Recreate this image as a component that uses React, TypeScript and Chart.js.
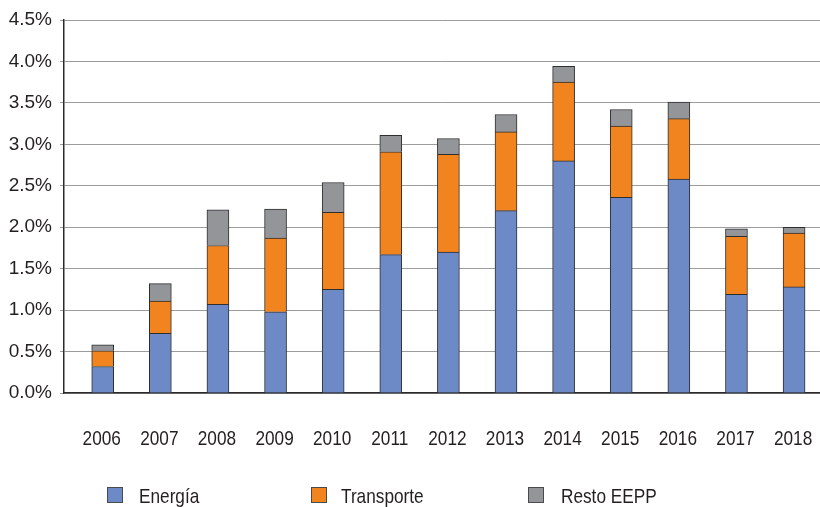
import React, { useEffect, useRef } from "react";
import { Chart, registerables } from "chart.js";

Chart.register(...registerables);

const categories = ["2006", "2007", "2008", "2009", "2010", "2011", "2012", "2013", "2014", "2015", "2016", "2017", "2018"];
const energia = [0.32, 0.72, 1.07, 0.98, 1.25, 1.67, 1.70, 2.20, 2.80, 2.36, 2.58, 1.19, 1.28];
const transporte = [0.19, 0.39, 0.71, 0.89, 0.93, 1.24, 1.18, 0.95, 0.95, 0.86, 0.73, 0.70, 0.65];
const resto = [0.07, 0.21, 0.43, 0.35, 0.36, 0.20, 0.19, 0.21, 0.19, 0.20, 0.20, 0.09, 0.07];
const yTicks = [0, 0.5, 1.0, 1.5, 2.0, 2.5, 3.0, 3.5, 4.0, 4.5];

const seriesNames = ["Energía", "Transporte", "Resto EEPP"];
const seriesColors = ["#6d8ac6", "#f1841f", "#939598"];

const REGULAR = "'Liberation Sans', Arial, sans-serif";
const TEXT = "#231f20";
const NARROW_SCALE = 0.82;

const xLabelPlugin = {
  id: "narrowXLabels",
  afterDraw(chart: any) {
    const ctx = chart.ctx;
    const xs = chart.scales.x;
    const base = chart.chartArea.bottom + 52;
    ctx.save();
    ctx.font = `21px ${REGULAR}`;
    ctx.fillStyle = TEXT;
    ctx.textAlign = "center";
    ctx.textBaseline = "alphabetic";
    categories.forEach((c) => {
      const px = xs.getPixelForValue(Number(c)) - 1;
      ctx.save();
      ctx.translate(px, base);
      ctx.scale(NARROW_SCALE, 1);
      ctx.fillText(c, 0, 0);
      ctx.restore();
    });
    ctx.restore();
  },
};

export default function App() {
  const ref = useRef<HTMLCanvasElement | null>(null);

  useEffect(() => {
    const years = categories.map((c) => Number(c));
    const mk = (vals: number[]) => vals.map((v, i) => ({ x: years[i], y: v }));
    const series = [energia, transporte, resto];
    const chart = new Chart(ref.current as HTMLCanvasElement, {
      type: "bar",
      data: {
        datasets: series.map((vals, k) => ({
          label: seriesNames[k],
          data: mk(vals),
          backgroundColor: seriesColors[k],
          borderColor: "#2e2e2e",
          borderWidth: 1,
          barThickness: 22,
        })),
      },
      options: {
        animation: false,
        responsive: false,
        devicePixelRatio: 1,
        layout: { padding: { top: 20, left: 0, right: 0, bottom: 57 } },
        plugins: { legend: { display: false }, tooltip: { enabled: false } },
        scales: {
          x: {
            type: "linear",
            stacked: true,
            offset: false,
            min: years[0] - 0.672,
            max: years[years.length - 1] + 0.45,
            afterBuildTicks: (s: any) => {
              s.ticks = years.map((v) => ({ value: v }));
            },
            afterFit: (s: any) => {
              s.height = 57;
              s.paddingLeft = 0;
              s.paddingRight = 0;
            },
            grid: { drawOnChartArea: false, drawTicks: false },
            border: { display: true, color: "#2a2a2a", width: 1.5 },
            ticks: { display: false },
          },
          y: {
            stacked: true,
            min: 0,
            max: 4.5,
            afterBuildTicks: (s: any) => {
              s.ticks = yTicks.map((v) => ({ value: v }));
            },
            afterFit: (s: any) => {
              s.width = 64;
            },
            grid: { color: "#9c9c9c", lineWidth: 1, tickLength: 4, drawTicks: true },
            border: { display: true, color: "#2a2a2a", width: 1.5 },
            ticks: {
              padding: 8,
              color: TEXT,
              font: { family: REGULAR, size: 19 },
              callback: (v: any) => Number(v).toFixed(1) + "%",
            },
          },
        },
      },
      plugins: [xLabelPlugin],
    } as any);
    return () => chart.destroy();
  }, []);

  const boxLeft = [107, 311, 528];
  const textLeft = [139, 341, 561];

  return (
    <div style={{ position: "fixed", left: 0, top: 0, width: 820, height: 507, background: "#fff", overflow: "hidden" }}>
      <canvas ref={ref} width={820} height={507} style={{ position: "absolute", left: 0, top: 0 }} />
      {seriesNames.map((n, k) => (
        <React.Fragment key={n}>
          <div
            style={{
              position: "absolute",
              left: boxLeft[k],
              top: 487,
              width: 14,
              height: 14,
              background: seriesColors[k],
              border: "1px solid #4a4a4a",
            }}
          />
          <div
            style={{
              position: "absolute",
              left: textLeft[k],
              top: 484,
              fontFamily: REGULAR,
              fontSize: 21,
              lineHeight: "24px",
              color: TEXT,
              whiteSpace: "nowrap",
              transform: `scaleX(${NARROW_SCALE})`,
              transformOrigin: "0 0",
            }}
          >
            {n}
          </div>
        </React.Fragment>
      ))}
    </div>
  );
}
